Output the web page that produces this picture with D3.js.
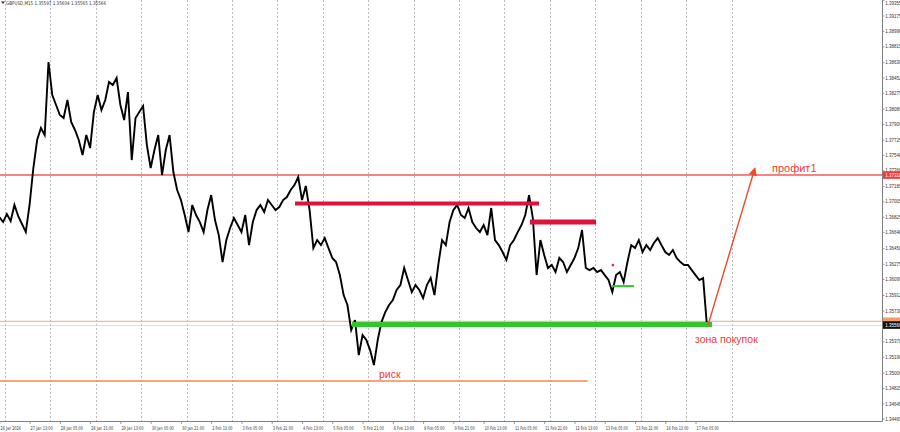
<!DOCTYPE html>
<html><head><meta charset="utf-8">
<script src="https://cdn.jsdelivr.net/npm/d3@7"></script>
<style>body{margin:0;background:#fff;overflow:hidden}svg{display:block}</style>
</head><body><svg id="c" width="900" height="432"></svg>
<script>
// ---------- DATA ----------
const symbolInfo = "GBPUSD,M15  1.35597 1.35604 1.35565 1.35566";
const barHours = 2; // one value every 2 trading hours, first at 26 Jan 21:00
const closes = [
1.36827,1.36769,1.36862,1.36781,1.36968,1.36839,1.36746,1.36652,1.36968,1.37400,
1.37727,1.37867,1.37785,1.38638,1.38252,1.38136,1.38019,1.37984,1.38194,1.37937,
1.37844,1.37727,1.37552,1.37785,1.37633,1.38054,1.38252,1.38077,1.38194,1.38404,
1.38369,1.38451,1.38136,1.37960,1.38287,1.37493,1.37984,1.38054,1.38124,1.37668,
1.37400,1.37610,1.37785,1.37318,1.37610,1.37785,1.37353,1.37143,1.37026,1.36851,
1.36652,1.36968,1.36851,1.36769,1.36652,1.36909,1.37084,1.36792,1.36617,1.36302,
1.36559,1.36699,1.36816,1.36734,1.36652,1.36851,1.36500,1.36769,1.36909,1.36968,
1.36886,1.37026,1.36968,1.36909,1.36944,1.37026,1.37061,1.37143,1.37201,1.37295,
1.37026,1.37190,1.36909,1.36465,1.36559,1.36500,1.36582,1.36465,1.36349,1.36302,
1.36150,1.35916,1.35800,1.35508,1.35624,1.35216,1.35449,1.35391,1.35274,1.35099,
1.35391,1.35601,1.35718,1.35800,1.35858,1.35975,1.36033,1.36232,1.36092,1.35951,
1.36033,1.35975,1.35881,1.36033,1.36115,1.35916,1.36267,1.36559,1.36500,1.36769,
1.36909,1.36968,1.36851,1.36816,1.36933,1.36769,1.36699,1.36652,1.36734,1.36617,
1.36933,1.36559,1.36500,1.36419,1.36325,1.36500,1.36559,1.36652,1.36734,1.36851,
1.37084,1.36816,1.36150,1.36559,1.36384,1.36232,1.36267,1.36185,1.36349,1.36302,
1.36185,1.36267,1.36349,1.36465,1.36676,1.36232,1.36208,1.36232,1.36185,1.36208,
1.36150,1.36092,1.35951,1.36150,1.36185,1.36068,1.36302,1.36500,1.36465,1.36559,
1.36419,1.36500,1.36442,1.36524,1.36582,1.36500,1.36419,1.36384,1.36442,1.36349,
1.36302,1.36267,1.36267,1.36208,1.36150,1.36092,1.36115,1.35566
];
const timeLabels = ["26 Jan 2026","27 Jan 13:00","28 Jan 05:00","28 Jan 21:00","29 Jan 13:00",
"30 Jan 05:00","30 Jan 21:00","2 Feb 13:00","3 Feb 05:00","3 Feb 21:00","4 Feb 13:00",
"5 Feb 05:00","5 Feb 21:00","6 Feb 13:00","9 Feb 05:00","9 Feb 21:00","10 Feb 13:00",
"11 Feb 05:00","11 Feb 21:00","12 Feb 13:00","13 Feb 05:00","13 Feb 21:00","16 Feb 13:00","17 Feb 05:00"];
const labelStepHours = 16;
const dayBoundaries = [3,27,51,75,99,123,147,171,195,219,243,267,291,315,339,363,387];
const priceTicks = [1.39355,1.39175,1.38996,1.38815,1.38630,1.38452,1.38275,1.38089,1.37909,
1.37725,1.37548,1.37368,1.37185,1.37005,1.36825,1.36648,1.36458,1.36275,1.36099,1.35912,
1.35730,1.35550,1.35370,1.35190,1.35006,1.34825,1.34645,1.34469];
const profitLevel = 1.37318;
const buyLine = 1.35610;
const lastPrice = 1.35566;
const riskLevel = 1.34912, riskHours = [0, 311];
const zoneLevel = 1.35572, zoneHours = [186.4, 376.7];
const res1Level = 1.36985, res1Hours = [156.3, 285.3];
const res2Level = 1.36769, res2Hours = [280.5, 315.4];
const sup2Level = 1.36021, sup2Hours = [323.8, 335.5];
const arrowFrom = [374.6, 1.35566], arrowTo = [399.4, 1.37400];
const texts = {profit:"профит1", zone:"зона покупок", risk:"риск"};

// ---------- DRAW ----------
const svg = d3.select("#c");
const W = 900, H = 432, plotR = 882, plotB = 421;
const x = d3.scaleLinear().domain([0, 387]).range([-0.7, 731.5]);
const y = d3.scaleLinear().domain([1.34469, 1.39362]).range([419, 0]);
const axisFont = "'DejaVu Sans', Tahoma, sans-serif";
const narrowFont = "'Liberation Sans Narrow', 'Liberation Sans', Arial, sans-serif";
const annFont = "'Liberation Sans', Arial, sans-serif";

svg.append("rect").attr("width", W).attr("height", H).attr("fill", "#fff");

// vertical grid
svg.append("g").selectAll("line").data(dayBoundaries).join("line")
  .attr("x1", d => Math.round(x(d)) + 0.5).attr("x2", d => Math.round(x(d)) + 0.5)
  .attr("y1", 0).attr("y2", plotB)
  .attr("stroke", "#a8a8a8").attr("stroke-width", 0.8).attr("stroke-dasharray", "2,2");

// peach buy line & grey last price line
svg.append("line").attr("x1", 0).attr("x2", plotR).attr("y1", y(buyLine)).attr("y2", y(buyLine))
  .attr("stroke", "#f7b79a").attr("stroke-width", 1.3);
svg.append("line").attr("x1", 0).attr("x2", plotR).attr("y1", y(lastPrice)+0.5).attr("y2", y(lastPrice)+0.5)
  .attr("stroke", "#d6d6d6").attr("stroke-width", 0.8);

// profit line
svg.append("line").attr("x1", 0).attr("x2", plotR).attr("y1", y(profitLevel)).attr("y2", y(profitLevel))
  .attr("stroke", "#f65a5a").attr("stroke-width", 1.4);

// risk line
svg.append("line").attr("x1", x(riskHours[0])).attr("x2", x(riskHours[1]))
  .attr("y1", y(riskLevel)).attr("y2", y(riskLevel))
  .attr("stroke", "#f5884f").attr("stroke-width", 1.4);

// price line
const line = d3.line().x((d, i) => x(i * barHours)).y(d => y(d)).curve(d3.curveLinear);
svg.append("path").datum(closes).attr("d", line)
  .attr("fill", "none").attr("stroke", "#000").attr("stroke-width", 1.9).attr("stroke-linejoin", "miter");

// resistance bars
svg.append("line").attr("x1", x(res1Hours[0])).attr("x2", x(res1Hours[1]))
  .attr("y1", y(res1Level)).attr("y2", y(res1Level)).attr("stroke", "#dc143c").attr("stroke-width", 4);
svg.append("line").attr("x1", x(res2Hours[0])).attr("x2", x(res2Hours[1]))
  .attr("y1", y(res2Level)).attr("y2", y(res2Level)).attr("stroke", "#dc143c").attr("stroke-width", 5);

// green buy zone
svg.append("line").attr("x1", x(zoneHours[0])).attr("x2", x(zoneHours[1]))
  .attr("y1", y(zoneLevel)).attr("y2", y(zoneLevel)).attr("stroke", "#2ec72e").attr("stroke-width", 5);
svg.append("line").attr("x1", x(sup2Hours[0])).attr("x2", x(sup2Hours[1]))
  .attr("y1", y(sup2Level)).attr("y2", y(sup2Level)).attr("stroke", "#2ec72e").attr("stroke-width", 2);

// small red mark
svg.append("circle").attr("cx", x(sup2Hours[0]) + 1).attr("cy", y(sup2Level) - 21).attr("r", 1.4).attr("fill", "#e0304a");

// arrow
const defs = svg.append("defs");
defs.append("marker").attr("id", "ah").attr("viewBox", "0 0 10 10").attr("refX", 9).attr("refY", 5)
  .attr("markerWidth", 6).attr("markerHeight", 6).attr("orient", "auto")
  .append("path").attr("d", "M0,0 L10,5 L0,10 z").attr("fill", "#f04a2a");
svg.append("line").attr("x1", x(arrowFrom[0])).attr("y1", y(arrowFrom[1]))
  .attr("x2", x(arrowTo[0])).attr("y2", y(arrowTo[1]))
  .attr("stroke", "#f04a2a").attr("stroke-width", 1.4).attr("marker-end", "url(#ah)");

// annotation texts
svg.append("text").attr("x", x(arrowTo[0]) + 17).attr("y", y(profitLevel) - 3)
  .attr("font-family", annFont).attr("font-size", 11).attr("fill", "#f03a3a").text(texts.profit);
svg.append("text").attr("x", x(arrowFrom[0]) - 13).attr("y", y(zoneLevel) + 18)
  .attr("font-family", annFont).attr("font-size", 10.5).attr("fill", "#f03a3a").text(texts.zone);
svg.append("text").attr("x", 379).attr("y", y(riskLevel) - 3)
  .attr("font-family", annFont).attr("font-size", 10.5).attr("fill", "#f03a3a").text(texts.risk);

// axes frame
svg.append("line").attr("x1", plotR + 0.5).attr("x2", plotR + 0.5).attr("y1", 0).attr("y2", plotB + 0.5)
  .attr("stroke", "#808080").attr("stroke-width", 1);
svg.append("line").attr("x1", 0).attr("x2", plotR + 0.5).attr("y1", plotB + 0.5).attr("y2", plotB + 0.5)
  .attr("stroke", "#808080").attr("stroke-width", 1);

// right axis
const ry = svg.append("g");
ry.selectAll("line").data(priceTicks).join("line")
  .attr("x1", plotR).attr("x2", plotR + 2.5).attr("y1", d => y(d)).attr("y2", d => y(d))
  .attr("stroke", "#808080").attr("stroke-width", 0.8);
ry.selectAll("text").data(priceTicks).join("text")
  .attr("x", plotR + 3.2).attr("y", d => Math.max(3.2, y(d))).attr("dy", "0.35em")
  .attr("font-family", narrowFont).attr("font-size", 4.5).attr("fill", "#333")
  .text(d => d.toFixed(5));

// price tags
function tag(val, fill, txt) {
  const g = svg.append("g");
  g.append("rect").attr("x", plotR + 1).attr("y", y(val) - 3.8).attr("width", W - plotR - 1).attr("height", 7.6).attr("fill", fill);
  if (txt) g.append("text").attr("x", plotR + 3.2).attr("y", y(val)).attr("dy", "0.35em")
    .attr("font-family", narrowFont).attr("font-size", 4.5).attr("fill", "#fff").text(txt);
}
tag(profitLevel, "#f23a3a", profitLevel.toFixed(5));
tag(buyLine, "#f49a6c", null);
tag(lastPrice, "#111", lastPrice.toFixed(5));

// bottom axis
const bx = svg.append("g");
bx.selectAll("line").data(timeLabels).join("line")
  .attr("x1", (d, i) => x(i * labelStepHours) + 0.5).attr("x2", (d, i) => x(i * labelStepHours) + 0.5)
  .attr("y1", plotB).attr("y2", plotB + 3).attr("stroke", "#808080").attr("stroke-width", 0.8);
bx.selectAll("text").data(timeLabels).join("text")
  .attr("x", (d, i) => Math.max(0.5, x(i * labelStepHours) + 1)).attr("y", plotB + 8.5)
  .attr("font-family", axisFont).attr("font-size", 5).attr("fill", "#333")
  .attr("textLength", d => d.length * 1.85).attr("lengthAdjust", "spacingAndGlyphs")
  .text(d => d);

// header
svg.append("path").attr("d", "M1,1.5 L5,1.5 L3,4 z").attr("fill", "#333");
svg.append("text").attr("x", 6).attr("y", 5).attr("font-family", axisFont).attr("font-size", 5)
  .attr("fill", "#333").attr("textLength", 100).attr("lengthAdjust", "spacingAndGlyphs").text(symbolInfo);
</script></body></html>
